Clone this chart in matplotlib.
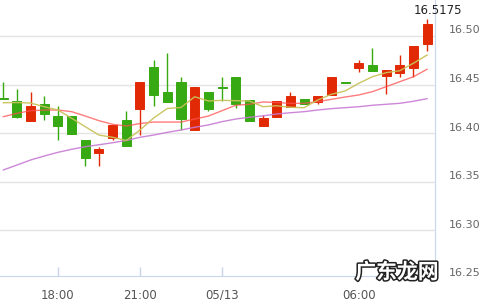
import matplotlib
matplotlib.use("Agg")
import matplotlib.pyplot as plt
import matplotlib.patheffects as pe
from matplotlib.transforms import ScaledTranslation
import numpy as np

# ---- data (30-minute candles) ----
opens = [16.436, 16.4330, 16.4127, 16.4299, 16.4175, 16.4175, 16.3928, 16.3797,
         16.3952, 16.4134, 16.4251, 16.4680, 16.4423, 16.4526, 16.4028, 16.4423,
         16.4474, 16.4577, 16.4340, 16.4075, 16.4168, 16.4271, 16.4351, 16.4320,
         16.4395, 16.4526, 16.4673, 16.4701, 16.4591, 16.4622, 16.4673, 16.4921]
highs = [16.453, 16.4454, 16.4423, 16.4381, 16.4278, 16.4175, 16.3928, 16.3853,
         16.4083, 16.4227, 16.4526, 16.4753, 16.4825, 16.4577, 16.4474, 16.4423,
         16.4577, 16.4577, 16.4340, 16.4182, 16.4330, 16.4426, 16.4351, 16.4381,
         16.4577, 16.4526, 16.4756, 16.4876, 16.4649, 16.4804, 16.4897, 16.5175]
lows = [16.435, 16.4158, 16.4127, 16.4137, 16.3931, 16.3993, 16.3660, 16.3660,
        16.3928, 16.3869, 16.3982, 16.4281, 16.4323, 16.4031, 16.4028, 16.4230,
        16.4333, 16.4261, 16.4127, 16.4075, 16.4168, 16.4271, 16.4299, 16.4299,
        16.4395, 16.4520, 16.4629, 16.4642, 16.4407, 16.4580, 16.4580, 16.4848]
closes = [16.435, 16.4168, 16.4278, 16.4199, 16.4075, 16.3993, 16.3745, 16.3835,
          16.4083, 16.3869, 16.4526, 16.4395, 16.4323, 16.4147, 16.4474, 16.4251,
          16.4468, 16.4296, 16.4127, 16.4155, 16.4330, 16.4381, 16.4299, 16.4381,
          16.4577, 16.4520, 16.4722, 16.4642, 16.4649, 16.4701, 16.4897, 16.5124]

ma_short = [16.4312, 16.4314, 16.4309, 16.4271, 16.4237, 16.4152, 16.4065, 16.3979,
            16.3956, 16.3923, 16.4031, 16.4155, 16.4253, 16.4263, 16.4374, 16.4330,
            16.4337, 16.4333, 16.4330, 16.4271, 16.4281, 16.4265, 16.4261, 16.4340,
            16.4399, 16.4433, 16.4512, 16.4580, 16.4622, 16.4642, 16.4719, 16.4804]
ma_mid = [16.4168, 16.4203, 16.4230, 16.4237, 16.4237, 16.4220, 16.4175, 16.4127,
          16.4090, 16.4072, 16.4098, 16.4113, 16.4113, 16.4113, 16.4144, 16.4175,
          16.4230, 16.4286, 16.4296, 16.4320, 16.4314, 16.4306, 16.4306, 16.4323,
          16.4347, 16.4371, 16.4392, 16.4426, 16.4477, 16.4529, 16.4580, 16.4657]
ma_long = [16.3619, 16.3670, 16.3722, 16.3763, 16.3801, 16.3832, 16.3859, 16.3879,
           16.3900, 16.3923, 16.3956, 16.3979, 16.4007, 16.4031, 16.4059, 16.4083,
           16.4117, 16.4144, 16.4162, 16.4177, 16.4196, 16.4209, 16.4220, 16.4237,
           16.4251, 16.4261, 16.4271, 16.4286, 16.4296, 16.4306, 16.4327, 16.4354]

xtick_pos = [4, 10, 16, 26]
xtick_labels = ["18:00", "21:00", "05/13", "06:00"]
ytick_vals = [16.25, 16.30, 16.35, 16.40, 16.45, 16.50]
ytick_labels = ["16.25", "16.30", "16.35", "16.40", "16.45", "16.50"]
last_label = "16.5175"

# ---- figure ----
W, H = 484, 300
fig = plt.figure(figsize=(W / 100, H / 100), dpi=100)
ax = fig.add_axes([0, (H - 280) / H, 435 / W, 280 / H])

UP = "#e12a05"
DOWN = "#36a913"
AXC = "#c8d5ea"

o = np.array(opens); c = np.array(closes)
hi = np.array(highs); lo = np.array(lows)
x = np.arange(len(o))
up = c >= o
cols = np.where(up, UP, DOWN)

ax.vlines(x, lo, hi, colors=cols, linewidth=1.0, zorder=3)
ax.bar(x, np.abs(c - o), bottom=np.minimum(o, c), width=0.66, color=cols,
       edgecolor=cols, linewidth=0.7, zorder=4)

ax.plot(x, ma_long, color="#c77ad4", linewidth=1.0, alpha=0.9, zorder=5)
ax.plot(x, ma_mid, color="#ff5050", linewidth=1.0, alpha=0.75, zorder=5)
ax.plot(x, ma_short, color="#c9c25a", linewidth=1.0, alpha=0.95, zorder=5)

ax.set_xlim(-0.24, 31.58)
ax.set_ylim(16.2485, 16.5371)

# grid
ax.set_yticks(ytick_vals)
ax.set_yticklabels(ytick_labels)
ax.yaxis.grid(True, color="#e4e4e4", linewidth=1.0)
ax.set_axisbelow(True)
ax.yaxis.get_gridlines()[0].set_visible(False)
ax.yaxis.set_ticks_position("right")
ax.tick_params(axis="y", length=0, pad=10, labelsize=8, labelcolor="#666666")
for lab in ax.get_yticklabels():
    lab.set_transform(lab.get_transform() + ScaledTranslation(0, 0.065, fig.dpi_scale_trans))

ax.set_xticks(xtick_pos)
ax.set_xticklabels(xtick_labels)
ax.tick_params(axis="x", direction="in", length=6.5, width=1, color=AXC,
               pad=9, labelsize=8.5, labelcolor="#555555")

for s in ["top", "left"]:
    ax.spines[s].set_visible(False)
ax.spines["right"].set_color(AXC)
ax.spines["bottom"].set_color(AXC)
ax.spines["bottom"].set_position(("data", 16.2526))

fig.text(438 / W, 1 - 11 / H, last_label, ha="center", va="center",
         fontsize=8.5, color="#222222")

fig.text(397 / W, 1 - 272 / H, "广东龙网", ha="center", va="center",
         fontsize=15, fontweight="bold", color="white",
         family=["Noto Sans CJK SC", "DejaVu Sans"],
         path_effects=[pe.withStroke(linewidth=2.2, foreground="#222222")])

fig.savefig("out.png", dpi=100)
